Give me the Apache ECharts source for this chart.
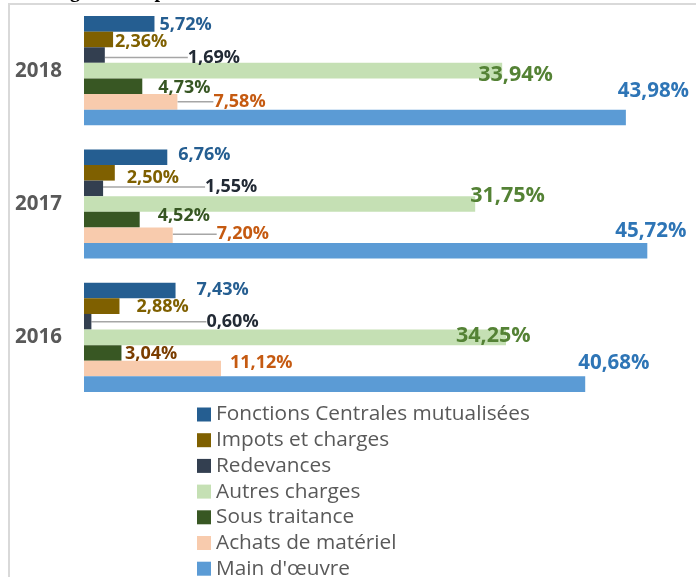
<!DOCTYPE html>
<html>
<head>
<meta charset="utf-8">
<script src="https://cdn.jsdelivr.net/npm/echarts@6/dist/echarts.min.js"></script>
<style>html,body{margin:0;padding:0;background:#fff}#c{width:696px;height:577px}</style>
</head>
<body>
<div id="c"></div>
<script>
var years = ['2016', '2017', '2018'];
var seriesNames = ['Fonctions Centrales mutualisées', 'Impots et charges', 'Redevances', 'Autres charges', 'Sous traitance', 'Achats de matériel', "Main d'œuvre"];
var fonctionsCentrales = [7.43, 6.76, 5.72];
var impotsCharges = [2.88, 2.50, 2.36];
var redevances = [0.60, 1.55, 1.69];
var autresCharges = [34.25, 31.75, 33.94];
var sousTraitance = [3.04, 4.52, 4.73];
var achatsMateriel = [11.12, 7.20, 7.58];
var mainOeuvre = [40.68, 45.72, 43.98];
var titleText = 'Charges des dépenses';

var values = [fonctionsCentrales, impotsCharges, redevances, autresCharges, sousTraitance, achatsMateriel, mainOeuvre];
var barColors = ['#255e91', '#7f6000', '#333f50', '#c5e0b4', '#385723', '#f8cbad', '#5b9bd5'];
var labelColors = ['#255e91', '#7f6000', '#222a35', '#548235', '#375623', '#c55a11', '#2e75b6'];
var labelSizes = [18, 18, 18, 21.5, 18, 18, 20.5];
// label displacement [dx, dy] per series, per year (2016, 2017, 2018)
var labelShift = [
  [[16, -1], [6, -2], [0, 1]],
  [[12, 0.5], [7, 5], [-3, 2]],
  [[110, 0], [97, -1.5], [78, 2.5]],
  [[-55, -1.5], [-10, -8], [-29, 4]],
  [[-1.5, 1], [13, -4], [11, 2]],
  [[4, -6], [39, -1], [31, 0]],
  [[-12, -21], [-37, -20], [-13, -26]]
];
var hasLine = [
  [false, false, false],
  [false, false, false],
  [true, true, true],
  [false, false, false],
  [false, false, false],
  [false, true, true],
  [false, false, false]
];

function fmt(v) { return v.toFixed(2).replace('.', ',') + '%'; }

var series = seriesNames.map(function (name, si) {
  return {
    name: name,
    type: 'bar',
    barWidth: 15.6,
    barGap: '0%',
    itemStyle: { color: barColors[si] },
    label: {
      show: true,
      position: 'right',
      distance: 5,
      formatter: function (p) { return fmt(p.value); },
      color: labelColors[si],
      fontFamily: 'Open Sans',
      fontWeight: 'bold',
      fontSize: labelSizes[si]
    },
    labelLine: { show: false, lineStyle: { color: '#a6a6a6', width: 1.5 } },
    labelLayout: function (params) {
      var s = labelShift[si][params.dataIndex];
      return { dx: s[0], dy: s[1] };
    },
    data: values[si].map(function (v, di) {
      var item = { value: v };
      if (hasLine[si][di]) item.labelLine = { show: true, lineStyle: { color: '#a6a6a6', width: 1.5 } };
      if (si === 4 && di === 0) item.label = { color: '#7a3d00' };
      return item;
    })
  };
});

var chart = echarts.init(document.getElementById('c'));
chart.setOption({
  animation: false,
  backgroundColor: '#ffffff',
  graphic: [
    { type: 'text', left: 25.6, top: -18.5, z: 1,
      style: { text: titleText, font: 'bold 20px "Liberation Serif"', fill: '#000' } },
    { type: 'rect', shape: { x: 9, y: 4, width: 720, height: 620 }, z: 2,
      style: { fill: 'none', stroke: '#d9d9d9', lineWidth: 2 } }
  ],
  grid: { left: 84, top: 4, width: 591.4, height: 400, containLabel: false },
  xAxis: { type: 'value', min: 0, max: 48, show: false },
  yAxis: {
    type: 'category', data: years,
    axisLine: { show: false }, axisTick: { show: false },
    axisLabel: { color: '#595959', fontFamily: 'Open Sans', fontWeight: 'bold', fontSize: 20.5, margin: 22 }
  },
  legend: {
    orient: 'vertical', left: 197, top: 404, height: 200, padding: 0,
    itemWidth: 14, itemHeight: 14, itemGap: 4.7,
    icon: 'rect',
    data: seriesNames,
    textStyle: { color: '#595959', fontFamily: 'Open Sans', fontSize: 20.8, lineHeight: 20 }
  },
  series: series
});
</script>
</body>
</html>
